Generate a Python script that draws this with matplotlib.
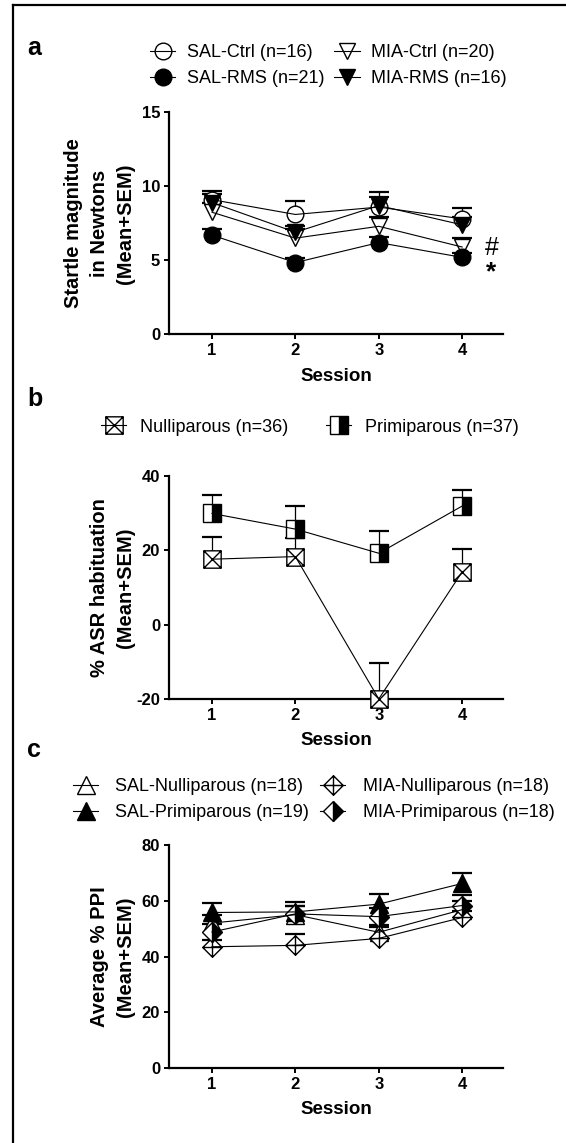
import matplotlib
matplotlib.use('Agg')
import matplotlib.pyplot as plt
import numpy as np
from matplotlib.path import Path
from matplotlib.lines import Line2D

plt.rcParams['font.family'] = ['Liberation Sans', 'DejaVu Sans']
plt.rcParams['axes.unicode_minus'] = False

sessions = [1, 2, 3, 4]

# panel a - startle magnitude
sal_ctrl = [9.1, 8.1, 8.6, 7.8]
sal_ctrl_sem = [0.6, 0.9, 0.7, 0.75]
mia_ctrl = [8.25, 6.5, 7.3, 5.9]
mia_ctrl_sem = [0.6, 0.6, 0.6, 0.6]
sal_rms = [6.7, 4.85, 6.2, 5.2]
sal_rms_sem = [0.4, 0.3, 0.4, 0.3]
mia_rms = [8.9, 6.9, 8.7, 7.4]
mia_rms_sem = [0.6, 0.4, 0.9, 0.5]

# panel b - % ASR habituation
nulli = [17.6, 18.3, -20.0, 14.2]
nulli_sem = [6.0, 5.0, 9.8, 6.1]
primi = [29.9, 25.7, 19.2, 31.9]
primi_sem = [4.9, 6.2, 6.0, 4.4]

# panel c - average % PPI
sal_nulli = [52.0, 55.0, 48.7, 56.8]
sal_nulli_sem = [3.0, 3.0, 2.7, 3.0]
sal_primi = [55.8, 56.0, 58.8, 66.2]
sal_primi_sem = [3.4, 3.4, 3.6, 3.6]
mia_nulli = [43.5, 44.0, 46.5, 54.0]
mia_nulli_sem = [2.5, 3.9, 4.0, 2.5]
mia_primi = [48.8, 55.3, 54.3, 58.3]
mia_primi_sem = [3.0, 3.0, 3.0, 3.9]

# custom markers
box_x = Path([(-1, -1), (1, -1), (1, 1), (-1, 1), (-1, -1), (-1, -1), (1, 1), (-1, 1), (1, -1)],
             [1, 2, 2, 2, 79, 1, 2, 1, 2])
diamond_plus = Path([(0, -1), (1, 0), (0, 1), (-1, 0), (0, -1), (0, -1), (0, 1), (-1, 0), (1, 0)],
                    [1, 2, 2, 2, 79, 1, 2, 1, 2])

open_circle = dict(marker='o', ms=12, mfc='white', mec='black', mew=1)
filled_circle = dict(marker='o', ms=12, mfc='black', mec='black', mew=1)
open_down = dict(marker='v', ms=12, mfc='white', mec='black', mew=1)
filled_down = dict(marker='v', ms=12, mfc='black', mec='black', mew=1)
box_cross = dict(marker=box_x, ms=12.5, mfc='white', mec='black', mew=1)
half_box = dict(marker='s', ms=12.5, fillstyle='right', mfc='black', mfcalt='white', mec='black', mew=1)
open_up = dict(marker='^', ms=13.5, mfc='white', mec='black', mew=1)
filled_up = dict(marker='^', ms=13.5, mfc='black', mec='black', mew=1)
dia_plus = dict(marker=diamond_plus, ms=14, mfc='white', mec='black', mew=1)
half_dia = dict(marker='D', ms=10, fillstyle='right', mfc='black', mfcalt='white', mec='black', mew=1)


def draw_group(ax, y, sem, style, cap=14):
    tops = np.array(y) + np.array(sem)
    ax.vlines(sessions, y, tops, color='black', lw=0.9, zorder=2)
    ax.plot(sessions, tops, ls='none', marker='_', ms=cap, mew=1.6, color='black', zorder=2)
    ax.plot(sessions, y, ls='none', zorder=3, clip_on=False, **style)
    ax.plot(sessions, y, color='black', lw=0.8, zorder=4, clip_on=False)


def handle(style, label):
    st = dict(style)
    if st.get('mfc') == 'white':
        st['mfc'] = 'none'
    return Line2D([], [], color='black', lw=0.8, label=label, **st)


def style_axes(ax, ylim, yticks, ylabel):
    ax.set_xlim(0.484, 4.49)
    ax.set_ylim(*ylim)
    ax.set_xticks(sessions)
    ax.set_yticks(yticks)
    for s in ['top', 'right']:
        ax.spines[s].set_visible(False)
    for s in ['left', 'bottom']:
        ax.spines[s].set_linewidth(1.6)
    ax.tick_params(width=1.4, length=3.8, labelsize=12, pad=2.5)
    for t in ax.get_xticklabels() + ax.get_yticklabels():
        t.set_fontweight('bold')
    ax.set_xlabel('Session', fontsize=13.5, fontweight='bold', labelpad=7)
    ax.set_ylabel(ylabel, fontsize=14.5, fontweight='bold', linespacing=1.45)
    ax.yaxis.set_label_coords(-0.102, 0.5)


fig = plt.figure(figsize=(5.66, 11.43), dpi=100)
axw = 334 / 566
axl = 169 / 566

# panel a
ax1 = fig.add_axes([axl, 0.7075, axw, 0.1942])
draw_group(ax1, sal_ctrl, sal_ctrl_sem, open_circle)
draw_group(ax1, mia_ctrl, mia_ctrl_sem, open_down)
draw_group(ax1, sal_rms, sal_rms_sem, filled_circle)
draw_group(ax1, mia_rms, mia_rms_sem, filled_down)
style_axes(ax1, (0, 15), [0, 5, 10, 15], 'Startle magnitude\nin Newtons\n(Mean+SEM)')
ax1.text(4.35, 5.33, '#', fontsize=18, ha='center', va='baseline')
ax1.text(4.35, 3.7, '*', fontsize=19, fontweight='bold', ha='center', va='baseline')
fig.legend(handles=[handle(open_circle, 'SAL-Ctrl (n=16)'), handle(filled_circle, 'SAL-RMS (n=21)'),
                    handle(open_down, 'MIA-Ctrl (n=20)'), handle(filled_down, 'MIA-RMS (n=16)')],
           ncol=2, loc='center left', bbox_to_anchor=(150 / 566, 1 - 65.5 / 1143), frameon=False,
           fontsize=13, borderpad=0, borderaxespad=0, handlelength=1.4, handletextpad=0.65,
           columnspacing=0.55, labelspacing=0.5)

# panel b
ax2 = fig.add_axes([axl, 0.3885, axw, 0.1951])
draw_group(ax2, nulli, nulli_sem, box_cross)
draw_group(ax2, primi, primi_sem, half_box)
style_axes(ax2, (-20, 40), [-20, 0, 20, 40], '% ASR habituation\n(Mean+SEM)')
fig.legend(handles=[handle(box_cross, 'Nulliparous (n=36)'), handle(half_box, 'Primiparous (n=37)')],
           ncol=2, loc='center left', bbox_to_anchor=(101 / 566, 1 - 427 / 1143), frameon=False,
           fontsize=13, borderpad=0, borderaxespad=0, handlelength=1.4, handletextpad=0.75,
           columnspacing=2.1)

# panel c
ax3 = fig.add_axes([axl, 0.0656, axw, 0.1951])
draw_group(ax3, sal_nulli, sal_nulli_sem, open_up)
draw_group(ax3, mia_nulli, mia_nulli_sem, dia_plus)
draw_group(ax3, sal_primi, sal_primi_sem, filled_up)
draw_group(ax3, mia_primi, mia_primi_sem, half_dia)
style_axes(ax3, (0, 80), [0, 20, 40, 60, 80], 'Average % PPI\n(Mean+SEM)')
fig.legend(handles=[handle(open_up, 'SAL-Nulliparous (n=18)'), handle(filled_up, 'SAL-Primiparous (n=19)'),
                    handle(dia_plus, 'MIA-Nulliparous (n=18)'), handle(half_dia, 'MIA-Primiparous (n=18)')],
           ncol=2, loc='center left', bbox_to_anchor=(73 / 566, 1 - 799.5 / 1143), frameon=False,
           fontsize=13, borderpad=0, borderaxespad=0, handlelength=1.4, handletextpad=0.95,
           columnspacing=0.6, labelspacing=0.5)

# panel letters
fig.text(0.048, 1 - 55 / 1143, 'a', fontsize=18, fontweight='bold', va='baseline')
fig.text(0.048, 1 - 406 / 1143, 'b', fontsize=18, fontweight='bold', va='baseline')
fig.text(0.048, 1 - 757 / 1143, 'c', fontsize=18, fontweight='bold', va='baseline')

# partial frame (top and left)
fig.add_artist(Line2D([13 / 566, 13 / 566], [0, 1 - 5 / 1143], color='black', lw=1.6))
fig.add_artist(Line2D([13 / 566, 1], [1 - 5 / 1143, 1 - 5 / 1143], color='black', lw=1.6))

fig.savefig('out.png', dpi=100)
